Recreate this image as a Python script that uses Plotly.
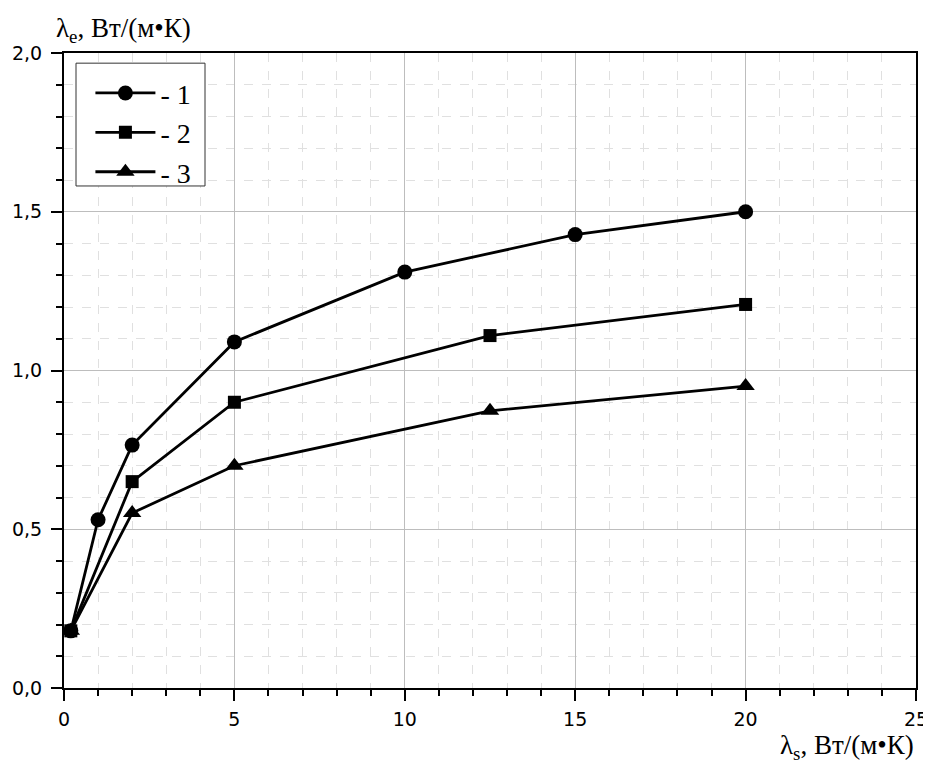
import plotly.graph_objects as go

# Data
x1 = [0.2, 1, 2, 5, 10, 15, 20]
y1 = [0.18, 0.53, 0.765, 1.09, 1.31, 1.428, 1.50]
x2 = [0.2, 2, 5, 12.5, 20]
y2 = [0.18, 0.65, 0.90, 1.11, 1.208]
x3 = [0.2, 2, 5, 12.5, 20]
y3 = [0.18, 0.551, 0.70, 0.873, 0.951]
names = ["- 1", "- 2", "- 3"]
symbols = ["circle", "square", "triangle-up"]
msizes = [15, 13, 16]

fig = go.Figure()
for i, (xs, ys) in enumerate([(x1, y1), (x2, y2), (x3, y3)]):
    fig.add_trace(go.Scatter(
        x=xs, y=ys, mode="lines+markers", name=names[i],
        legendgroup=f"g{i}",
        line=dict(color="black", width=2.8),
        marker=dict(symbol=symbols[i], size=msizes[i], color="black"),
    ))

tickfont = dict(family="DejaVu Sans", size=19, color="black")
minor_common = dict(ticks="outside", ticklen=6, tickwidth=2, tickcolor="black",
                    showgrid=True, gridcolor="#e0e0e0", griddash="dash", gridwidth=1)
fig.update_layout(
    width=923, height=763,
    margin=dict(l=56, r=15, t=45, b=83),
    paper_bgcolor="white", plot_bgcolor="white",
    separators=", ",
    showlegend=True,
    legend=dict(
        x=0.031, y=0.976, xanchor="left", yanchor="top",
        bgcolor="rgba(0,0,0,0)", borderwidth=0,
        font=dict(family="Liberation Serif", size=28, color="black"),
        tracegroupgap=0, itemwidth=60,
    ),
    shapes=[dict(type="rect", xref="paper", yref="paper",
                 x0=0.0141, x1=0.1655, y0=0.7906, y1=0.984,
                 line=dict(color="#333", width=1), fillcolor="white", layer="above")],
    xaxis=dict(
        range=[0, 25], dtick=5, tick0=0, automargin=False,
        showline=True, linecolor="black", linewidth=2, mirror=True,
        ticks="outside", ticklen=11, tickwidth=2, tickcolor="black",
        ticklabelstandoff=2,
        showgrid=True, gridcolor="#bdbdbd", gridwidth=1,
        zeroline=False, tickfont=tickfont,
        minor=dict(dtick=1, **minor_common),
    ),
    yaxis=dict(
        range=[0, 2.0], dtick=0.5, tick0=0, tickformat=".1f", automargin=False,
        showline=True, linecolor="black", linewidth=2, mirror=True,
        ticks="outside", ticklen=11, tickwidth=2, tickcolor="black",
        ticklabelstandoff=5,
        showgrid=True, gridcolor="#bdbdbd", gridwidth=1,
        zeroline=False, tickfont=tickfont,
        minor=dict(dtick=0.1, **minor_common),
    ),
    annotations=[
        dict(text="λ<sub>e</sub>, Вт/(м•К)", xref="paper", yref="paper",
             x=-0.012, y=1.0, xanchor="left", yanchor="bottom", yshift=4,
             showarrow=False,
             font=dict(family="Liberation Serif", size=27, color="black")),
        dict(text="λ<sub>s</sub>, Вт/(м•К)", xref="paper", yref="paper",
             x=1.0, y=0.0, xanchor="right", yanchor="top", yshift=-40,
             showarrow=False,
             font=dict(family="Liberation Serif", size=27, color="black")),
    ],
)

fig.write_html("out.html")
